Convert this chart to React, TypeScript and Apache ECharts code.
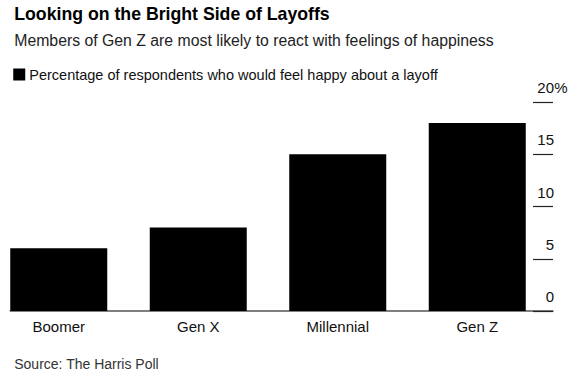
import React, { useEffect, useRef } from "react";
import * as echarts from "echarts";

const categories = ["Boomer", "Gen X", "Millennial", "Gen Z"];
const happyPct = [6, 8, 15, 18];
const yTicks = [0, 5, 10, 15, 20];

const FONT = "'Liberation Sans', Arial, Helvetica, sans-serif";
const SHIFT = 11.25;

export default function App() {
  const ref = useRef<HTMLDivElement>(null);
  useEffect(() => {
    if (!ref.current) return;
    const chart = echarts.init(ref.current, undefined, { renderer: "svg" });
    const top = 102;
    const bottom = 377 - 311;
    chart.setOption({
      animation: false,
      textStyle: { fontFamily: FONT },
      title: [
        {
          text: "Looking on the Bright Side of Layoffs",
          left: 9 + SHIFT,
          top: 0,
          textStyle: { fontSize: 17.7, fontWeight: "bold", color: "#000", fontFamily: FONT },
        },
        {
          text: "Members of Gen Z are most likely to react with feelings of happiness",
          left: 9 + SHIFT,
          top: 27,
          textStyle: { fontSize: 15.8, fontWeight: "normal", color: "#222", fontFamily: FONT },
        },
        {
          text: "Source: The Harris Poll",
          left: 9 + SHIFT,
          top: 352,
          textStyle: { fontSize: 14, fontWeight: "normal", color: "#333", fontFamily: FONT },
        },
      ],
      legend: {
        left: 8 + SHIFT,
        top: 62,
        icon: "rect",
        itemWidth: 12,
        itemHeight: 12,
        itemGap: 6,
        textStyle: { fontSize: 14.5, color: "#111", fontFamily: FONT, padding: [0, 0, 0, -1] },
        data: ["Percentage of respondents who would feel happy about a layoff"],
      },
      grid: [
        { left: 0, width: 558, top, bottom },
        { left: 10 + SHIFT, right: 27, top, bottom },
      ],
      xAxis: [
        {
          type: "category",
          data: categories,
          gridIndex: 0,
          axisLine: { show: false },
          axisTick: { show: false },
          axisLabel: { margin: 8, fontSize: 15, color: "#111", fontFamily: FONT },
        },
        {
          type: "category",
          data: categories,
          gridIndex: 1,
          axisLine: { show: true, lineStyle: { color: "#555", width: 1.5 } },
          axisTick: { show: false },
          axisLabel: { show: false },
        },
      ],
      yAxis: [
        {
          type: "value",
          gridIndex: 0,
          min: 0,
          max: 20,
          interval: 5,
          show: false,
        },
        {
          type: "value",
          gridIndex: 1,
          position: "right",
          min: 0,
          max: 20,
          interval: 5,
          axisLine: { show: false },
          splitLine: { show: false },
          axisTick: { show: true, inside: true, length: 20, lineStyle: { color: "#222", width: 1.2 } },
          axisLabel: {
            inside: true,
            margin: -15,
            align: "right",
            verticalAlign: "bottom",
            padding: [0, 0, 7, 0],
            fontSize: 15,
            color: "#111",
            fontFamily: FONT,
            formatter: (v: number) => (v === yTicks[yTicks.length - 1] ? `${v}{p|%}` : `${v}{p| }`),
            rich: { p: { width: 14, fontSize: 15, color: "#111", fontFamily: FONT, align: "left" } },
          },
        },
      ],
      series: [
        {
          name: "Percentage of respondents who would feel happy about a layoff",
          type: "bar",
          xAxisIndex: 0,
          yAxisIndex: 0,
          data: happyPct,
          barWidth: 97,
          itemStyle: { color: "#000" },
        },
      ],
    });
    return () => chart.dispose();
  }, []);
  return (
    <div
      ref={ref}
      style={{ width: 580 + SHIFT, height: 377, position: "absolute", left: -SHIFT, top: 0 }}
    />
  );
}
